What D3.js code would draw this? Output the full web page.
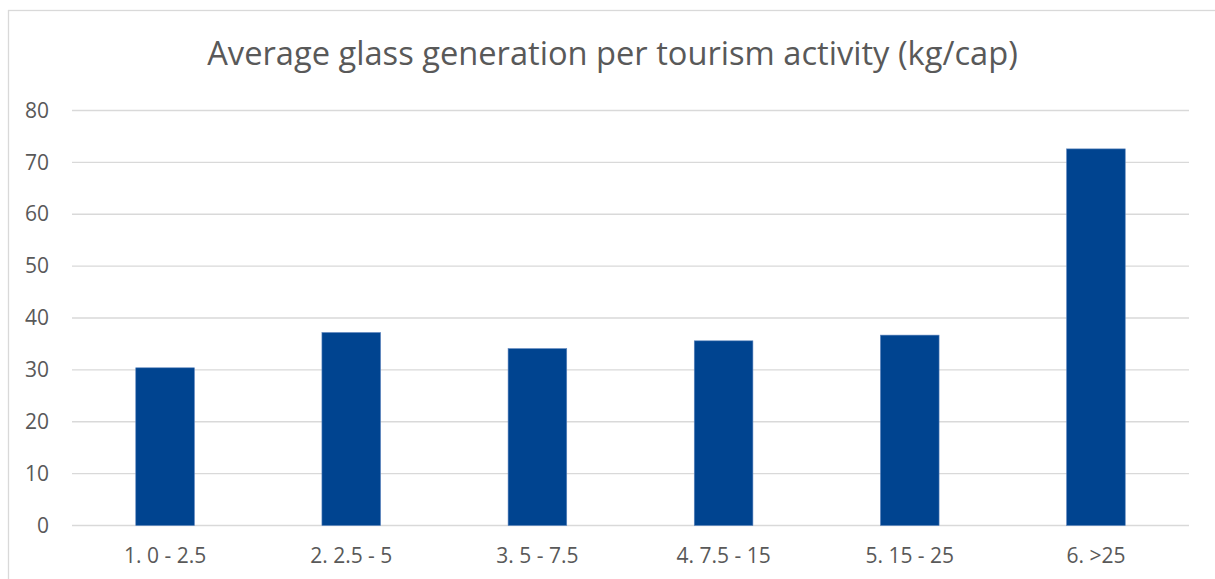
<!DOCTYPE html>
<html>
<head>
<meta charset="utf-8">
<script src="https://cdn.jsdelivr.net/npm/d3@7"></script>
<style>
  body { margin: 0; background: #fff; }
  svg { display: block; }
</style>
</head>
<body>
<svg width="1215" height="579"></svg>
<script>
var categories = ['1. 0 - 2.5', '2. 2.5 - 5', '3. 5 - 7.5', '4. 7.5 - 15', '5. 15 - 25', '6. >25'],
    values = [30.4, 37.2, 34.1, 35.6, 36.7, 72.6],
    yTicks = [0, 10, 20, 30, 40, 50, 60, 70, 80];

var title = 'Average glass generation per tourism activity (kg/cap)';

var svg = d3.select('svg');
var font = "'Open Sans', sans-serif";

// chart frame (right and bottom edges are off the picture)
svg.append('rect')
    .attr('x', 8.5)
    .attr('y', 10.5)
    .attr('width', 1220)
    .attr('height', 600)
    .attr('fill', '#fff')
    .attr('stroke', '#d9d9d9')
    .attr('stroke-width', 1.3);

var x = d3.scaleBand()
    .domain(categories)
    .range([72, 1189])
    .paddingInner(0.685)
    .paddingOuter(0.3425);

var y = d3.scaleLinear()
    .domain([0, 80])
    .range([525.5, 110.5]);

// gridlines
svg.append('g')
    .selectAll('line')
    .data(yTicks)
    .enter()
    .append('line')
    .attr('x1', 72)
    .attr('x2', 1189)
    .attr('y1', (d) => y(d))
    .attr('y2', (d) => y(d))
    .attr('stroke', '#d9d9d9')
    .attr('stroke-width', 1.3);

// bars
svg.append('g')
    .selectAll('rect')
    .data(values)
    .enter()
    .append('rect')
    .attr('x', (d, i) => x(categories[i]))
    .attr('y', (d) => y(d))
    .attr('width', x.bandwidth())
    .attr('height', (d) => y(0) - y(d))
    .attr('fill', '#004490')
    .attr('stroke', '#5b84bd')
    .attr('stroke-width', 0.6);

// y axis labels
var yAxis = d3.axisLeft(y)
    .tickValues(yTicks)
    .tickSize(0)
    .tickPadding(0);

var gy = svg.append('g')
    .attr('transform', 'translate(49,0)')
    .call(yAxis);
gy.select('.domain').remove();
gy.selectAll('text')
    .attr('fill', '#595959')
    .style('font-family', font)
    .style('font-size', '21px');

// x axis labels
var xAxis = d3.axisBottom(x)
    .tickSize(0)
    .tickPadding(0);

var gx = svg.append('g')
    .attr('transform', 'translate(0,548)')
    .call(xAxis);
gx.select('.domain').remove();
gx.selectAll('text')
    .attr('fill', '#595959')
    .style('font-family', font)
    .style('font-size', '21px');

// title, sized to the reference width
var t = svg.append('text')
    .attr('x', 612.5)
    .attr('y', 65)
    .attr('text-anchor', 'middle')
    .attr('fill', '#595959')
    .style('font-family', font)
    .style('font-size', '30px')
    .text(title);

var w = t.node().getComputedTextLength();
t.style('font-size', (30 * 811 / w) + 'px');
</script>
</body>
</html>
